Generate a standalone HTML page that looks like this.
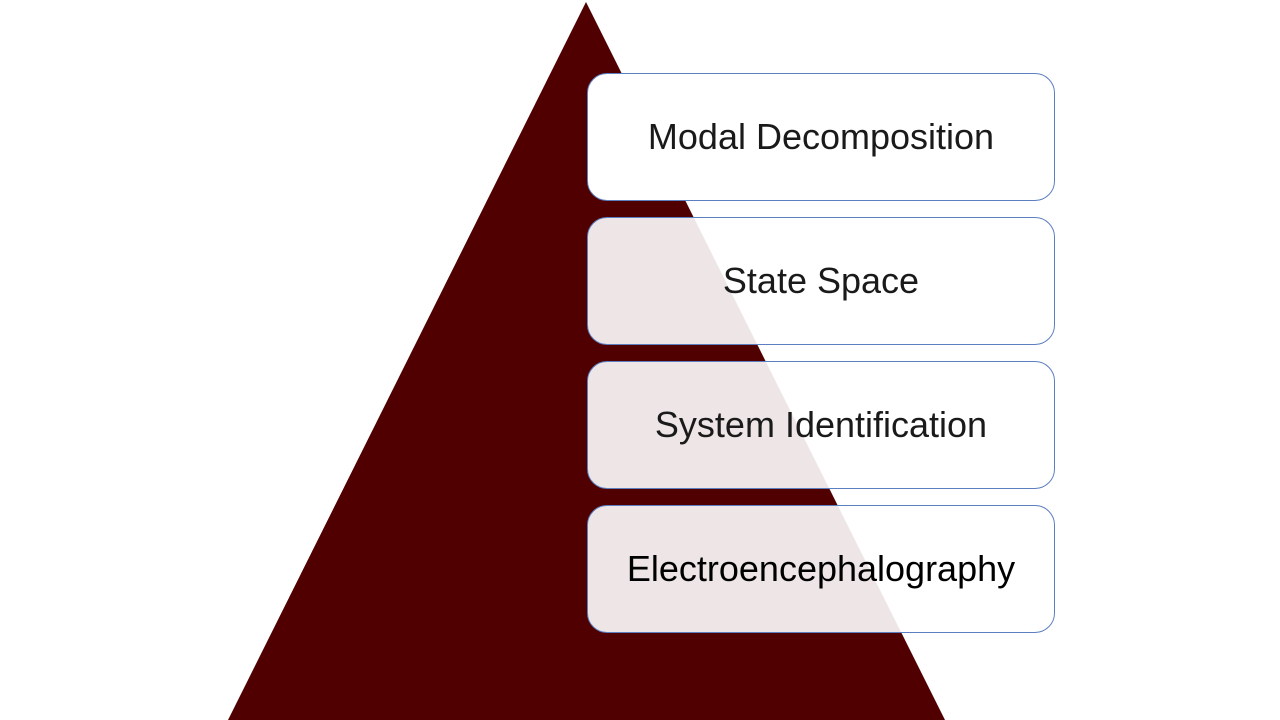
<!DOCTYPE html>
<html><head><meta charset="utf-8"><style>
html,body{margin:0;padding:0;width:1280px;height:720px;background:#fff;overflow:hidden;position:relative;font-family:"Liberation Sans",sans-serif}
svg{position:absolute;left:0;top:0}
.b{position:absolute;left:587px;width:468px;height:128px;border:1px solid #5b7fc0;border-radius:20px;background:rgba(255,255,255,0.9);display:flex;align-items:center;justify-content:center;font-size:36px;color:#1a1a1a;box-sizing:border-box}
</style></head><body>
<svg width="1280" height="720"><polygon points="586,2 945,720 228,720" fill="#500000"/></svg>
<div class="b" style="top:73px;background:#fff">Modal Decomposition</div>
<div class="b" style="top:217px">State Space</div>
<div class="b" style="top:361px">System Identification</div>
<div class="b" style="top:505px;color:#000">Electroencephalography</div>
</body></html>
